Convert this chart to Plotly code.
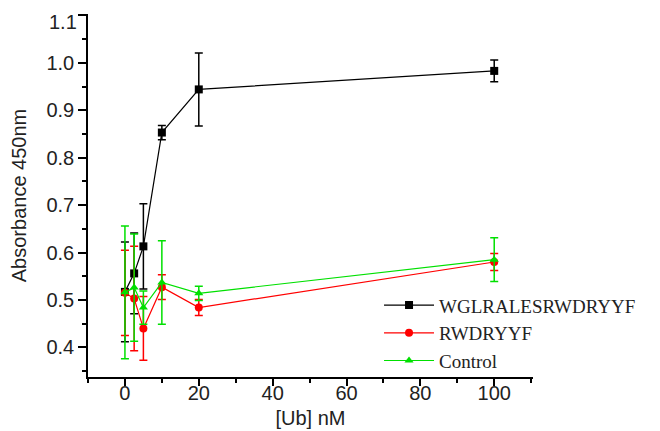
import plotly.graph_objects as go

conc = [0, 2.5, 5, 10, 20, 100]

wgl_y = [0.517, 0.556, 0.613, 0.853, 0.944, 0.983]
wgl_err = [0.105, 0.085, 0.09, 0.015, 0.077, 0.023]

rwd_y = [0.515, 0.503, 0.44, 0.527, 0.484, 0.580]
rwd_err = [0.09, 0.11, 0.067, 0.026, 0.017, 0.018]

ctrl_y = [0.516, 0.526, 0.484, 0.537, 0.514, 0.585]
ctrl_err = [0.14, 0.113, 0.035, 0.088, 0.015, 0.046]

y_tickvals = [0.4, 0.5, 0.6, 0.7, 0.8, 0.9, 1.0, 1.1]
y_ticktext = ["0.4", "0.5", "0.6", "0.7", "0.8", "0.9", "1.0", "1.1"]

names = ["WGLRALESRWDRYYF", "RWDRYYF", "Control"]
colors = ["#000000", "#ff0000", "#00e000"]
symbols = ["square", "circle", "triangle-up"]

fig = go.Figure()
for name, ys, errs, col, sym in zip(names, [wgl_y, rwd_y, ctrl_y],
                                    [wgl_err, rwd_err, ctrl_err], colors, symbols):
    fig.add_trace(go.Scatter(
        x=conc, y=ys, name=name, mode="lines+markers",
        line=dict(color=col, width=1.2),
        marker=dict(color=col, symbol=sym, size=8),
        error_y=dict(type="data", array=errs, visible=True, color=col,
                     thickness=1.5, width=4),
    ))

axis_font = dict(family="Liberation Sans", size=20, color="#222222")

# the top label sits slightly below its tick in the reference
shown_text = y_ticktext[:-1] + [""]
fig.add_annotation(x=0, xref="paper", y=y_tickvals[-1], yref="y",
                   text=y_ticktext[-1], showarrow=False, xanchor="right",
                   yanchor="middle", xshift=-9, yshift=-7, font=axis_font)

fig.update_layout(
    width=652, height=423,
    margin=dict(l=80, r=127, t=6, b=54),
    paper_bgcolor="white", plot_bgcolor="white",
    showlegend=True,
    legend=dict(x=0.654, y=0.25, xanchor="left", yanchor="top",
                bgcolor="rgba(0,0,0,0)", itemwidth=50,
                font=dict(family="Liberation Serif", size=19, color="#222222")),
    xaxis=dict(range=[-10, 110.5], tick0=0, dtick=20, ticks="outside",
               ticklen=7, tickwidth=1.5, tickcolor="black", automargin=False,
               ticklabeloverflow="allow", ticklabelstandoff=-10,
               showline=True, linewidth=1.5, linecolor="black",
               showgrid=False, zeroline=False, tickfont=axis_font,
               minor=dict(dtick=10, tick0=0, ticks="outside", ticklen=4,
                          tickwidth=1.5, tickcolor="black", showgrid=False),
               title=dict(text="[Ub] nM", font=axis_font, standoff=8)),
    yaxis=dict(range=[0.3375, 1.103], tickmode="array", tickvals=y_tickvals,
               ticktext=shown_text,
               ticks="outside", ticklen=8, tickwidth=1.5, tickcolor="black",
               automargin=False, ticklabeloverflow="allow",
               showline=True, linewidth=1.5, linecolor="black",
               showgrid=False, zeroline=False, tickfont=axis_font,
               minor=dict(dtick=0.05, tick0=0.4, ticks="outside", ticklen=4,
                          tickwidth=1.5, tickcolor="black", showgrid=False),
               title=dict(text="Absorbance 450nm", font=axis_font, standoff=14)),
)

fig.write_html("out.html")
